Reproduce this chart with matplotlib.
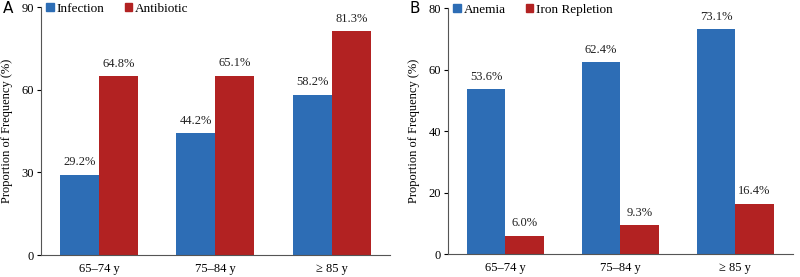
import matplotlib
matplotlib.use("Agg")
import matplotlib.pyplot as plt
import numpy as np
from matplotlib.patches import Patch

plt.rcParams['font.family'] = ['Liberation Serif', 'DejaVu Serif']

age_groups = ["65\u201374 y", "75\u201384 y", "\u2265 85 y"]

infection = [29.2, 44.2, 58.2]
antibiotic = [64.8, 65.1, 81.3]

anemia = [53.6, 62.4, 73.1]
iron_repletion = [6.0, 9.3, 16.4]

BLUE = "#2D6DB5"
RED = "#B22222"

fig = plt.figure(figsize=(8, 2.77), dpi=100)
ax_a = fig.add_axes([0.051, 0.0794, 0.4365, 0.8953])
ax_b = fig.add_axes([0.560, 0.083, 0.431, 0.888])


def draw_panel(ax, series1, series2, names, ymax, yticks, letter, letter_x):
    x = np.arange(len(age_groups))
    w = 0.335
    b1 = ax.bar(x - w / 2, series1, w, color=BLUE, label=names[0])
    b2 = ax.bar(x + w / 2, series2, w, color=RED, label=names[1])
    for bars, vals in ((b1, series1), (b2, series2)):
        for rect, v in zip(bars, vals):
            ax.text(rect.get_x() + rect.get_width() / 2, v + ymax * 0.025,
                    "{:.1f}%".format(v), ha="center", va="bottom",
                    fontsize=9, color="#222222")
    ax.set_xlim(-0.5, 2.5)
    ax.set_ylim(0, ymax)
    ax.set_yticks(yticks)
    ax.set_xticks(x)
    ax.set_xticklabels(age_groups, fontsize=9)
    ax.tick_params(axis="x", length=0, pad=6)
    ax.tick_params(axis="y", length=3, labelsize=9, direction="out", pad=2)
    ax.set_ylabel("Proportion of Frequency (%)", fontsize=9, labelpad=6)
    for s in ("top", "right"):
        ax.spines[s].set_visible(False)
    for s in ("left", "bottom"):
        ax.spines[s].set_color("#555555")
        ax.spines[s].set_linewidth(0.8)
    handles = [Patch(color=BLUE, label=names[0]), Patch(color=RED, label=names[1])]
    ax.legend(handles=handles, loc="upper left", bbox_to_anchor=(0.012, 1.022),
              ncol=2, frameon=False, fontsize=9.5, handlelength=0.55,
              handleheight=0.55, handletextpad=0.25, columnspacing=1.5,
              borderaxespad=0.0, borderpad=0.1)
    fig.text(letter_x, 0.97, letter, fontsize=11, ha="left", va="center",
             family="DejaVu Sans")


draw_panel(ax_a, infection, antibiotic, ["Infection", "Antibiotic"], 90,
           [0, 30, 60, 90], "A", 0.004)
draw_panel(ax_b, anemia, iron_repletion, ["Anemia", "Iron Repletion"], 80,
           [0, 20, 40, 60, 80], "B", 0.512)

fig.savefig("out.png", dpi=100)
